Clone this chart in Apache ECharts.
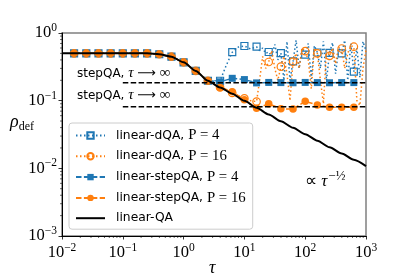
<!DOCTYPE html>
<html><head><meta charset="utf-8">
<script src="https://cdn.jsdelivr.net/npm/echarts@6/dist/echarts.min.js"></script>
<style>html,body{margin:0;padding:0;background:#fff}#c{width:415px;height:277px}</style>
</head><body><div id="c"></div>
<script>
// ---- data ----
const tauMarkers = [0.0158, 0.0251, 0.0398, 0.0631, 0.1, 0.158, 0.251, 0.398, 0.631, 1, 1.585, 2.512,
  3.981, 6.31, 10, 15.85, 25.12, 39.81, 63.1, 100, 158.5, 251.2, 398.1, 631];
const stepP4 = [0.5, 0.5, 0.5, 0.5, 0.5, 0.5, 0.5, 0.485, 0.447, 0.369, 0.275, 0.197,
  0.19, 0.214, 0.205, 0.183, 0.186, 0.185, 0.184, 0.186, 0.185, 0.184, 0.185, 0.185];
const stepP16 = [0.5, 0.5, 0.5, 0.5, 0.5, 0.5, 0.5, 0.485, 0.447, 0.369, 0.275, 0.197,
  0.157, 0.136, 0.103, 0.077, 0.09, 0.076, 0.075, 0.098, 0.086, 0.080, 0.080, 0.080];
const tauQA = [0.01, 0.0158, 0.0251, 0.0398, 0.0631, 0.1, 0.158, 0.251, 0.398, 0.631, 1, 1.585, 2.512,
  3.981, 6.31, 10, 15.85, 25.12, 39.81, 63.1, 100, 158.5, 251.2, 398.1, 631, 1000];
const linearQA = [0.5, 0.5, 0.5, 0.5, 0.5, 0.5, 0.5, 0.5, 0.485, 0.447, 0.369, 0.275, 0.197,
  0.157, 0.127, 0.0995, 0.0785, 0.0625, 0.0497, 0.0398, 0.032, 0.0256, 0.0205, 0.0166, 0.0134, 0.0108];
const tauDQA = [0.0158, 0.0251, 0.0398, 0.0631, 0.1, 0.158, 0.251, 0.398, 0.631, 1, 1.585, 2.512,
  3.981, 5.012, 6.31, 7.943, 10, 12.59, 15.85,
  17.78, 19.95, 22.39, 25.12, 28.18, 31.62, 35.48, 39.81, 44.67, 50.12, 56.23, 63.1, 70.79, 79.43, 89.13, 100,
  112.2, 125.9, 141.3, 158.5, 177.8, 199.5, 223.9, 251.2, 281.8, 316.2, 354.8, 398.1, 446.7, 501.2, 562.3, 631,
  707.9, 794.3, 891.3, 1000];
const dqaP4 = [0.5, 0.5, 0.5, 0.5, 0.5, 0.5, 0.5, 0.485, 0.447, 0.369, 0.275, 0.197,
  0.197, 0.33, 0.52, 0.62, 0.642, 0.58, 0.628,
  0.55, 0.60, 0.50, 0.524, 0.45, 0.68, 0.40, 0.505, 0.20, 0.75, 0.20, 0.38, 0.78, 0.30, 0.60, 0.48,
  0.70, 0.21, 0.65, 0.515, 0.30, 0.75, 0.20, 0.51, 0.72, 0.25, 0.60, 0.50, 0.78, 0.20, 0.70, 0.268,
  0.60, 0.22, 0.75, 0.55];
const dqaP16 = [0.5, 0.5, 0.5, 0.5, 0.5, 0.5, 0.5, 0.485, 0.447, 0.369, 0.275, 0.197,
  0.157, 0.145, 0.13, 0.118, 0.108, 0.10, 0.097,
  0.20, 0.45, 0.30, 0.373, 0.55, 0.30, 0.20, 0.318, 0.45, 0.25, 0.10, 0.377, 0.50, 0.30, 0.60, 0.54,
  0.40, 0.15, 0.60, 0.50, 0.20, 0.09, 0.55, 0.46, 0.60, 0.35, 0.62, 0.59, 0.30, 0.50, 0.65, 0.627,
  0.10, 0.085, 0.30, 0.56];
const asymTau = [0.1, 1000];
const asymP4 = [0.184, 0.184];
const asymP16 = [0.0816, 0.0816];
const xTickExp = [-2, -1, 0, 1, 2, 3];
const yTickExp = [-3, -2, -1, 0];

// ---- chart ----
const BLUE = '#1f77b4', ORANGE = '#ff7f0e';
const SANS = 'DejaVu Sans', SERIF = 'Liberation Serif';
const pairs = (xs, ys) => xs.map((x, i) => [x, ys[i]]);
const dqaData = ys => tauDQA.map((t, i) => {
  const m = tauMarkers.some(v => Math.abs(v / t - 1) < 0.01);
  return m ? [t, ys[i]] : { value: [t, ys[i]], symbol: 'none' };
});
const minorX = [], minorY = [];
for (let d = xTickExp[0]; d < xTickExp[xTickExp.length - 1]; d++) for (let m = 2; m <= 9; m++) minorX.push(m * Math.pow(10, d));
for (let d = yTickExp[0]; d < yTickExp[yTickExp.length - 1]; d++) for (let m = 2; m <= 9; m++) minorY.push(m * Math.pow(10, d));

const tickFmt = v => {
  const e = Math.round(Math.log10(v));
  return '{b|10}{e|' + (e < 0 ? '\u2212' : '') + Math.abs(e) + '}';
};
const tickRich = {
  b: { fontFamily: SERIF, fontSize: 16.5, color: '#000' },
  e: { fontFamily: SERIF, fontSize: 11.5, color: '#000', padding: [0, 0, 10, 0] }
};
const DOT = [1.5, 2.5], DASH = [5.5, 2.4];
const annRich = { s: { fontFamily: SANS, fontSize: 12, fill: '#000' },
  t: { fontFamily: SERIF, fontStyle: 'italic', fontSize: 15, fill: '#000' },
  a: { fontFamily: SERIF, fontSize: 15, fill: '#000' },
  r: { fontFamily: 'DejaVu Sans', fontSize: 13, fill: '#000' } };

const chart = echarts.init(document.getElementById('c'));
chart.setOption({
  animation: false,
  grid: { show: true, left: 62, right: 49, top: 33, bottom: 41, borderColor: '#808080', borderWidth: 1.5 },
  xAxis: {
    type: 'log', min: 0.01, max: 1000, logBase: 10,
    axisLine: { show: true, lineStyle: { color: '#000', width: 1 } },
    axisTick: { show: true, length: 3.5, lineStyle: { color: '#000', width: 0.8 } },
    axisLabel: { margin: 6, formatter: tickFmt, rich: tickRich },
    splitLine: { show: false }
  },
  yAxis: {
    type: 'log', min: 0.001, max: 1, logBase: 10,
    axisLine: { show: true, lineStyle: { color: '#000', width: 1 } },
    axisTick: { show: true, length: 3.5, lineStyle: { color: '#000', width: 0.8 } },
    axisLabel: { margin: 5, formatter: tickFmt, rich: tickRich },
    splitLine: { show: false }
  },
  legend: {
    orient: 'vertical', left: 69, top: 123,
    padding: [5, 7, 4, 6], itemGap: 5.8, itemWidth: 29, itemHeight: 8,
    backgroundColor: 'rgba(255,255,255,0.8)', borderColor: '#cccccc', borderWidth: 1, borderRadius: 3,
    data: ['linear-dQA, P = 4', 'linear-dQA, P = 16', 'linear-stepQA, P = 4', 'linear-stepQA, P = 16',
      { name: 'linear-QA', itemStyle: { opacity: 0 } }],
    formatter: n => n.replace(/(P = \d+)/, '{m|$1}'),
    textStyle: { fontFamily: SANS, fontSize: 12.3, color: '#000', lineHeight: 14, padding: [0, 0, 0, 6],
      rich: { m: { fontFamily: SERIF, fontSize: 14.8, color: '#000', lineHeight: 14 } } }
  },
  series: [
    { name: 'linear-dQA, P = 4', type: 'line', data: dqaData(dqaP4), symbol: 'rect', symbolSize: 7,
      itemStyle: { color: 'rgba(255,255,255,0)', borderColor: BLUE, borderWidth: 1.2 },
      lineStyle: { color: BLUE, width: 1.5, type: DOT }, z: 2 },
    { name: 'linear-dQA, P = 16', type: 'line', data: dqaData(dqaP16), symbol: 'circle', symbolSize: 7.5,
      itemStyle: { color: 'rgba(255,255,255,0)', borderColor: ORANGE, borderWidth: 1.2 },
      lineStyle: { color: ORANGE, width: 1.5, type: DOT }, z: 3 },
    { name: 'linear-stepQA, P = 4', type: 'line', data: pairs(tauMarkers, stepP4), symbol: 'rect', symbolSize: 7,
      itemStyle: { color: BLUE }, lineStyle: { color: BLUE, width: 1.5, type: DASH }, z: 4 },
    { name: 'linear-stepQA, P = 16', type: 'line', data: pairs(tauMarkers, stepP16), symbol: 'circle', symbolSize: 7.5,
      itemStyle: { color: ORANGE }, lineStyle: { color: ORANGE, width: 1.5, type: DASH }, z: 5 },
    { name: 'asym4', type: 'line', data: pairs(asymTau, asymP4), symbol: 'none',
      lineStyle: { color: '#000', width: 1.5, type: DASH }, z: 6 },
    { name: 'asym16', type: 'line', data: pairs(asymTau, asymP16), symbol: 'none',
      lineStyle: { color: '#000', width: 1.5, type: DASH }, z: 6 },
    { name: 'linear-QA', type: 'line', data: pairs(tauQA, linearQA), symbol: 'none', smooth: 0.25, smoothMonotone: 'x',
      itemStyle: { color: '#000' }, lineStyle: { color: '#000', width: 2 }, z: 7 },
    { name: 'minorX', type: 'custom', silent: true, clip: false, z: 8, data: minorX.map(v => [v, 0.001]),
      renderItem: (p, api) => { const pt = api.coord([api.value(0), api.value(1)]);
        return { type: 'line', shape: { x1: pt[0], y1: pt[1], x2: pt[0], y2: pt[1] + 2 }, style: { stroke: '#000', lineWidth: 0.6 } }; } },
    { name: 'minorY', type: 'custom', silent: true, clip: false, z: 8, data: minorY.map(v => [0.01, v]),
      renderItem: (p, api) => { const pt = api.coord([api.value(0), api.value(1)]);
        return { type: 'line', shape: { x1: pt[0], y1: pt[1], x2: pt[0] - 2, y2: pt[1] }, style: { stroke: '#000', lineWidth: 0.6 } }; } }
  ],
  graphic: [
    { type: 'text', left: 10, top: 113, style: { text: '{r|\u03c1}{d|def}',
      rich: { r: { fontFamily: SERIF, fontStyle: 'italic', fontSize: 18, fill: '#000' },
              d: { fontFamily: SERIF, fontSize: 12, fill: '#000', padding: [9, 0, 0, 0] } } } },
    { type: 'text', left: 209, top: 259, style: { text: '\u03c4', fontFamily: SERIF, fontStyle: 'italic', fontSize: 18, fill: '#000' } },
    { type: 'text', left: 77, top: 66, style: { text: '{s|stepQA, }{t|\u03c4}{a| }{r|\u27f6}{a| \u221e}', rich: annRich } },
    { type: 'text', left: 77, top: 88, style: { text: '{s|stepQA, }{t|\u03c4}{a| }{r|\u27f6}{a| \u221e}', rich: annRich } },
    { type: 'text', left: 305, top: 170, style: { text: '{a|\u221d }{t|\u03c4}{e|\u2212\u00bd}',
      rich: { a: { fontFamily: SERIF, fontSize: 17, fill: '#000' }, t: { fontFamily: SERIF, fontStyle: 'italic', fontSize: 17, fill: '#000' },
              e: { fontFamily: SERIF, fontSize: 13, fill: '#000', padding: [0, 0, 10, 1] } } } }
  ]
});
</script></body></html>
